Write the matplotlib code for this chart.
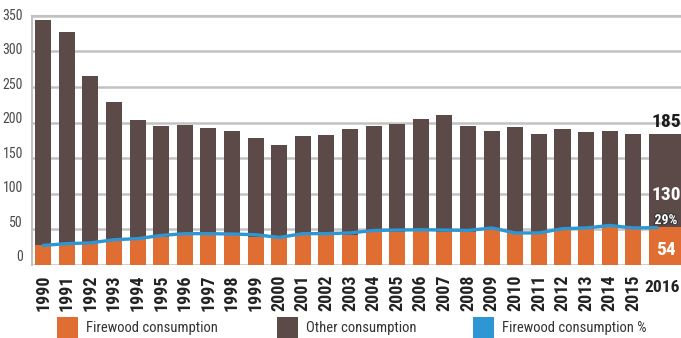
import matplotlib
matplotlib.use("Agg")
import matplotlib.pyplot as plt
import matplotlib.patheffects as pe
import matplotlib.font_manager as fm
from matplotlib.patches import Rectangle

years = list(range(1990, 2017))
firewood = [28, 31, 31, 34, 36, 40, 43, 43, 42, 40, 39, 42, 42, 42,
            47, 47, 48, 47, 46, 52, 46, 45, 51, 51, 54, 52, 54]
other = [316, 296, 234, 195, 167, 155, 153, 149, 146, 138, 129, 139, 140, 149,
         148, 151, 157, 164, 149, 136, 148, 139, 140, 136, 134, 132, 130]
# blue line as drawn in the chart (same scale as the bars)
fw_line = [27.5, 30, 31, 35.5, 37, 41.5, 44, 44, 43.5, 42.5, 38.7, 44, 44, 45,
           48.5, 49, 49.5, 49, 48.5, 52, 45, 45, 51, 52, 55.5, 52, 52.5]
yticks = [0, 50, 100, 150, 200, 250, 300, 350]
last_labels = ["185", "130", "29%", "54"]
legend_names = ["Firewood consumption", "Other consumption", "Firewood consumption %"]

orange = "#e06d32"
brown = "#5c4a48"
blue = "#2e96d3"
grid = "#c2c2c2"


def pick_narrow():
    fonts = [(f.name, str(f.stretch)) for f in fm.fontManager.ttflist]
    names = [n for n, s in fonts]
    for want in ["Roboto Condensed", "Liberation Sans Narrow", "Open Sans Condensed",
                 "Noto Sans Condensed", "DejaVu Sans Condensed"]:
        if want in names:
            return want, "normal"
    for n, s in fonts:
        if "condensed" in s or "narrow" in n.lower() or "condensed" in n.lower():
            return n, s
    return "DejaVu Sans", "normal"


fam, stretch = pick_narrow()
plt.rcParams["font.family"] = [fam, "DejaVu Sans"]
plt.rcParams["font.stretch"] = stretch

W, H = 681, 338
fig = plt.figure(figsize=(W / 100, H / 100), dpi=100)
ax = fig.add_axes([32 / W, 1 - 265 / H, 1 - 32 / W, (265 - 15.7) / H])

# bars 1990-2015
ax.bar(years[:-1], firewood[:-1], width=0.68, color=orange, zorder=3)
ax.bar(years[:-1], other[:-1], width=0.68, bottom=firewood[:-1], color=brown, zorder=3)
# 2016 bar is wider and runs off the right edge
ax.bar(years[-1] - 0.34, firewood[-1], width=1.5, align="edge", color=orange, zorder=3)
ax.bar(years[-1] - 0.34, other[-1], width=1.5, align="edge", bottom=firewood[-1],
       color=brown, zorder=3)

ax.plot(years, fw_line, color=blue, lw=2.4, zorder=4, solid_capstyle="round")

ax.set_xlim(1989.53, 2017.02)
ax.set_ylim(0, 350)
ax.set_yticks(yticks)
ax.set_yticklabels([])
ax.yaxis.grid(True, color=grid, lw=1.8)
ax.set_axisbelow(True)
ax.tick_params(length=0)
for s in ["right", "bottom"]:
    ax.spines[s].set_visible(False)
for s in ["left", "top"]:
    ax.spines[s].set_color(grid)
    ax.spines[s].set_linewidth(1.5)

# y labels sit a bit above their gridlines, more so near the bottom
for v in yticks:
    ax.text(-0.014, v + (350 - v) * 11 / 350, str(v), transform=ax.get_yaxis_transform(),
            ha="right", va="center", fontsize=10, color="#4a4a4a")

ax.set_xticks(years[:-1])
ax.set_xticklabels([str(y) for y in years[:-1]], rotation=90, fontsize=13,
                   fontweight="bold", color="#222222")
ax.tick_params(axis="x", pad=7)
ax.annotate(str(years[-1]), xy=(2016.96, 0), xycoords=("data", "axes fraction"),
            xytext=(0, -10.5), textcoords="offset points", ha="right", va="top",
            fontsize=12.5, fontweight="bold", color="#222222")

# labels on the 2016 bar
xl = 2016.38
ax.text(xl, 201, last_labels[0], ha="center", va="center", fontsize=14,
        fontweight="bold", color="#1a1a1a", zorder=5)
ax.text(xl, 98, last_labels[1], ha="center", va="center", fontsize=14,
        fontweight="bold", color="white", zorder=5)
ax.text(xl, 63, last_labels[2], ha="center", va="center", fontsize=10,
        fontweight="bold", color="white", zorder=5,
        path_effects=[pe.withStroke(linewidth=1.5, foreground="#333333")])
ax.text(xl, 21, last_labels[3], ha="center", va="center", fontsize=14,
        fontweight="bold", color="white", zorder=5)

# legend along the bottom edge
for x0, c, name in zip([57, 277, 473], [orange, brown, blue], legend_names):
    fig.add_artist(Rectangle((x0 / W, 0), 21 / W, 21 / H, transform=fig.transFigure,
                             color=c, lw=0))
    fig.text((x0 + 29) / W, 1 - 328 / H, name, ha="left", va="center",
             fontsize=10.5, color="#333333")

fig.savefig("out.png", dpi=100)
